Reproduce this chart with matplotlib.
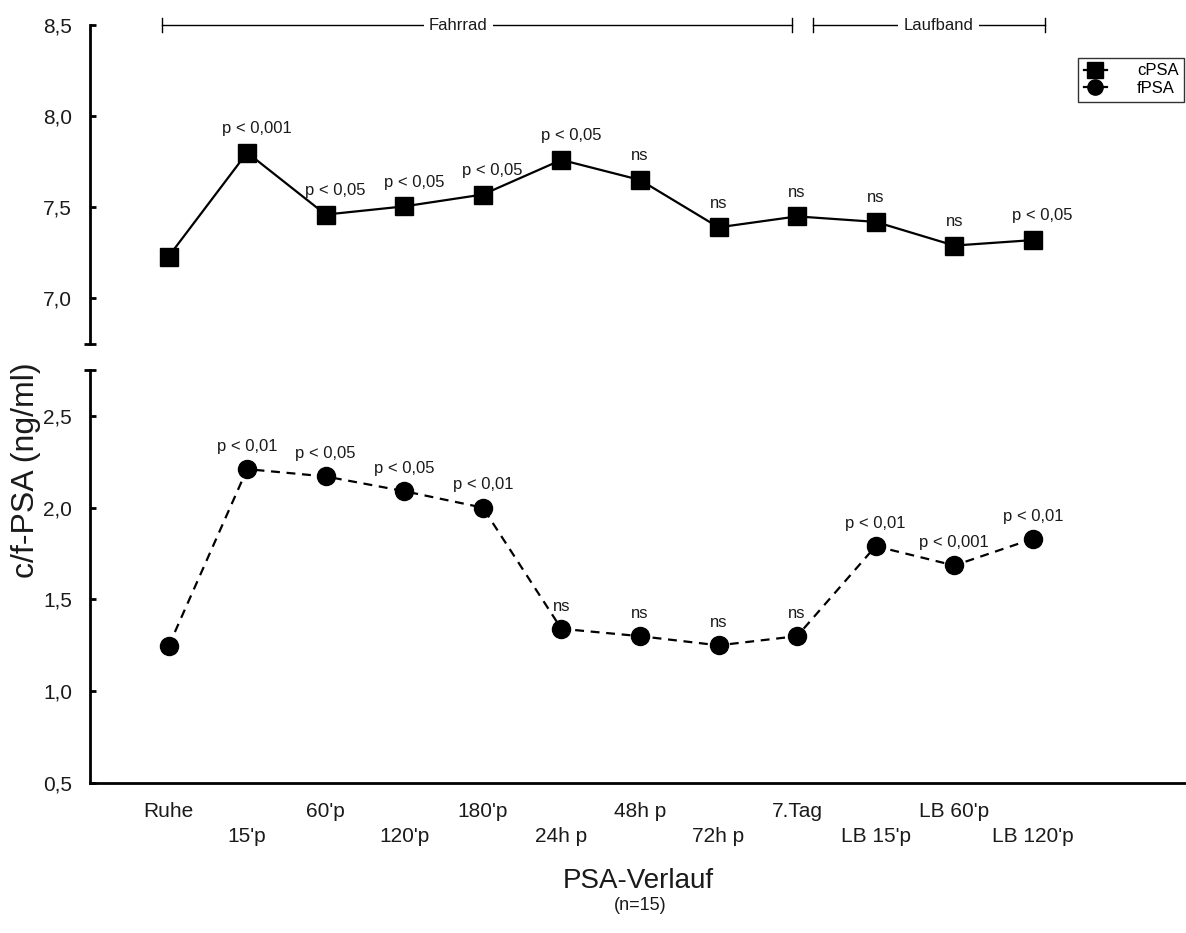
import matplotlib.pyplot as plt
from matplotlib.lines import Line2D
from matplotlib.ticker import FixedLocator

plt.rcParams['font.family'] = ['Liberation Sans', 'Arial', 'DejaVu Sans']

# -------- Daten --------
zeitpunkte = ["Ruhe", "15'p", "60'p", "120'p", "180'p", "24h p",
              "48h p", "72h p", "7.Tag", "LB 15'p", "LB 60'p", "LB 120'p"]
cpsa = [7.23, 7.80, 7.46, 7.505, 7.57, 7.76, 7.65, 7.39, 7.45, 7.42, 7.29, 7.32]
fpsa = [1.245, 2.21, 2.17, 2.09, 2.00, 1.34, 1.30, 1.25, 1.30, 1.79, 1.685, 1.83]
cpsa_sig = ["", "p < 0,001", "p < 0,05", "p < 0,05", "p < 0,05", "p < 0,05",
            "ns", "ns", "ns", "ns", "ns", "p < 0,05"]
fpsa_sig = ["", "p < 0,01", "p < 0,05", "p < 0,05", "p < 0,01", "ns",
            "ns", "ns", "ns", "p < 0,01", "p < 0,001", "p < 0,01"]
phasen = ["Fahrrad", "Laufband"]
phasen_grenzen = [(-0.08, 7.93, 3.69), (8.2, 11.15, 9.8)]

x = list(range(len(zeitpunkte)))
TXT = "#1a1a1a"

fig = plt.figure(figsize=(11.86, 9.33), dpi=100)
ax_top = fig.add_axes([90/1186, 1-344/933, 1-90/1186, (344-25)/933])
ax_bot = fig.add_axes([90/1186, 1-783/933, 1-90/1186, (783-370)/933])

# ---- obere Achse: cPSA ----
ax_top.plot(x, cpsa, color="black", lw=1.6, marker="s", ms=13, mfc="black", mec="black")
ax_top.set_ylim(6.75, 8.5)
ax_top.set_xlim(-1, 12.95)
ax_top.set_yticks([7.0, 7.5, 8.0, 8.5])
ax_top.set_yticklabels(["7,0", "7,5", "8,0", "8,5"])
ax_top.yaxis.set_minor_locator(FixedLocator([6.75]))
for s in ("top", "right", "bottom"):
    ax_top.spines[s].set_visible(False)
ax_top.spines["left"].set_linewidth(2)
ax_top.set_xticks([])
ax_top.tick_params(axis="y", direction="in", length=4, width=2, labelsize=15,
                   pad=13, labelcolor=TXT)
ax_top.tick_params(axis="y", which="minor", direction="inout", length=8, width=2)
for xi, yi, s in zip(x, cpsa, cpsa_sig):
    if s:
        dx = 7 if s.startswith("p") else 0
        ax_top.annotate(s, (xi, yi), xytext=(dx, 12), textcoords="offset points",
                        ha="center", va="bottom", fontsize=12, color=TXT)

# ---- Phasen-Klammern ----
for name, (a, b, tx) in zip(phasen, phasen_grenzen):
    ax_top.plot([a, b], [8.5, 8.5], color="black", lw=1, clip_on=False)
    for e in (a, b):
        ax_top.plot([e, e], [8.46, 8.54], color="black", lw=1, clip_on=False)
    ax_top.text(tx, 8.5, name, ha="center", va="center", fontsize=12, color=TXT,
                bbox=dict(facecolor="white", edgecolor="none", pad=4))

# ---- untere Achse: fPSA ----
ax_bot.plot(x, fpsa, color="black", lw=1.6, ls=(0, (4, 3)), marker="o", ms=13,
            mfc="black", mec="black")
ax_bot.set_ylim(0.5, 2.75)
ax_bot.set_xlim(-1, 12.95)
ax_bot.set_yticks([0.5, 1.0, 1.5, 2.0, 2.5])
ax_bot.set_yticklabels(["0,5", "1,0", "1,5", "2,0", "2,5"])
ax_bot.yaxis.set_minor_locator(FixedLocator([2.75]))
for s in ("top", "right"):
    ax_bot.spines[s].set_visible(False)
ax_bot.spines["left"].set_linewidth(2)
ax_bot.spines["bottom"].set_linewidth(2)
ax_bot.tick_params(axis="y", direction="in", length=4, width=2, labelsize=15,
                   pad=13, labelcolor=TXT)
ax_bot.tick_params(axis="y", which="minor", direction="inout", length=8, width=2)

ax_bot.set_xticks(x)
ax_bot.set_xticklabels([t if i % 2 == 0 else "\n" + t for i, t in enumerate(zeitpunkte)])
ax_bot.xaxis.set_minor_locator(FixedLocator(x[1::2]))
ax_bot.tick_params(axis="x", which="major", length=0, labelsize=15, pad=14,
                   labelcolor=TXT)
ax_bot.tick_params(axis="x", which="minor", direction="in", length=5, width=2)
for lbl in ax_bot.get_xticklabels():
    lbl.set_linespacing(1.35)

for xi, yi, s in zip(x, fpsa, fpsa_sig):
    if s:
        ax_bot.annotate(s, (xi, yi), xytext=(0, 11), textcoords="offset points",
                        ha="center", va="bottom", fontsize=12, color=TXT)

# ---- Beschriftungen ----
ax_bot.set_xlabel("PSA-Verlauf", fontsize=20, labelpad=16, color=TXT)
fig.text(640/1186, 1-906/933, "(n=15)", ha="center", va="center", fontsize=13, color=TXT)
fig.text(26/1186, 1-470/933, "c/f-PSA (ng/ml)", rotation=90, ha="center", va="center",
         fontsize=23, color=TXT)

handles = [
    Line2D([], [], color="black", lw=1.6, marker="s", ms=11),
    Line2D([], [], color="black", lw=1.6, marker="o", ms=11),
]
leg = fig.legend(handles, ["cPSA", "fPSA"], loc="upper right",
                 bbox_to_anchor=(1.0, 1-56/933), fontsize=12, frameon=True,
                 fancybox=False, handlelength=1.4, handletextpad=1.8,
                 borderpad=0.35, labelspacing=0.15, borderaxespad=0.1)
leg.get_frame().set_edgecolor("black")
leg.get_frame().set_linewidth(1)

fig.savefig("out.png", dpi=100)
